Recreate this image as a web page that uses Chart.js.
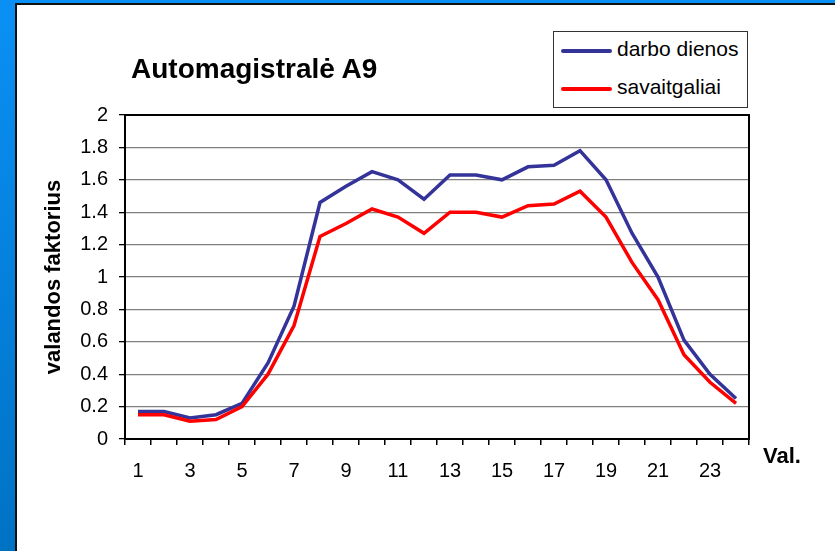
<!doctype html>
<html>
<head>
	<meta charset="utf-8">
	<title>Automagistralė A9</title>
	<script src="https://cdn.jsdelivr.net/npm/chart.js@4/dist/chart.umd.min.js"></script>
	<style>
		body {
			margin: 0;
			width: 835px;
			height: 551px;
			overflow: hidden;
			position: relative;
			background: linear-gradient(#0a90f5, #0072c4);
			font-family: "Liberation Sans", Arial, sans-serif;
		}
		#panel {
			position: absolute;
			left: 15px;
			top: 3px;
			width: 818px;
			height: 546px;
			background: #fff;
			border-left: 2px solid #111;
			border-top: 2px solid #111;
		}
		#canvas {
			position: absolute;
			left: 0;
			top: 0;
		}
		#title {
			position: absolute;
			left: 131px;
			top: 53px;
			font-size: 28px;
			font-weight: bold;
			line-height: 32px;
			white-space: nowrap;
		}
		#val {
			position: absolute;
			left: 763px;
			top: 444px;
			font-size: 22px;
			font-weight: bold;
			line-height: 24px;
		}
		#legend {
			position: absolute;
			left: 553px;
			top: 31px;
			width: 193px;
			height: 75px;
			border: 1px solid #333;
			background: #fff;
			font-size: 21px;
		}
		.row {
			position: absolute;
			left: 0;
			height: 26px;
			line-height: 26px;
			white-space: nowrap;
		}
		.row span.swatch {
			position: absolute;
			left: 7px;
			top: 11px;
			width: 51px;
			height: 4px;
			border-radius: 2px;
		}
		.row span.txt {
			position: absolute;
			left: 63px;
			top: -2px;
		}
	</style>
</head>

<body>
	<div id="panel"></div>
	<canvas id="canvas" width="835" height="551"></canvas>
	<div id="title">Automagistralė A9</div>
	<div id="val">Val.</div>
	<div id="legend">
		<div class="row" style="top: 6px;"><span class="swatch" style="background:#333399"></span><span class="txt">darbo dienos</span></div>
		<div class="row" style="top: 44px;"><span class="swatch" style="background:#ff0000"></span><span class="txt">savaitgaliai</span></div>
	</div>

	<script>
		// hourly factors
		var hours = ['1','2','3','4','5','6','7','8','9','10','11','12','13','14','15','16','17','18','19','20','21','22','23','24'];
		var darboDienos = [0.17, 0.17, 0.13, 0.15, 0.22, 0.47, 0.82, 1.46, 1.56, 1.65, 1.60, 1.48, 1.63, 1.63, 1.60, 1.68, 1.69, 1.78, 1.60, 1.27, 1.00, 0.61, 0.40, 0.25];
		var savaitgaliai = [0.15, 0.15, 0.11, 0.12, 0.20, 0.40, 0.70, 1.25, 1.33, 1.42, 1.37, 1.27, 1.40, 1.40, 1.37, 1.44, 1.45, 1.53, 1.37, 1.09, 0.86, 0.52, 0.35, 0.22];
		var yMin = 0, yMax = 2, yStep = 0.2;

		var font = "'Liberation Sans', Arial, sans-serif";

		// black frame round the plot area
		var frame = {
			id: 'frame',
			beforeDatasetsDraw: function (chart) {
				var a = chart.chartArea, ctx = chart.ctx;
				ctx.save();
				ctx.strokeStyle = '#000';
				ctx.lineWidth = 2;
				ctx.strokeRect(a.left, a.top, a.right - a.left, a.bottom - a.top);
				ctx.restore();
			}
		};

		var ctx = document.getElementById('canvas').getContext('2d');
		new Chart(ctx, {
			type: 'line',
			data: {
				labels: hours,
				datasets: [{
					label: 'darbo dienos',
					data: darboDienos,
					borderColor: '#333399',
					borderWidth: 3.5,
					pointRadius: 0,
					tension: 0,
					order: 1
				}, {
					label: 'savaitgaliai',
					data: savaitgaliai,
					borderColor: '#ff0000',
					borderWidth: 3.5,
					pointRadius: 0,
					tension: 0,
					order: 0
				}]
			},
			options: {
				responsive: false,
				animation: false,
				layout: { padding: { left: 0, top: 115, right: 86, bottom: 0 } },
				plugins: {
					legend: { display: false },
					title: { display: false },
					tooltip: { enabled: false }
				},
				scales: {
					x: {
						offset: true,
						grid: {
							offset: true,
							drawOnChartArea: false,
							tickLength: 6,
							tickColor: '#000',
							lineWidth: 1.5
						},
						border: { color: '#000', width: 2 },
						ticks: {
							autoSkip: false,
							maxRotation: 0,
							padding: 14,
							color: '#000',
							font: { family: font, size: 20 },
							callback: function (value, index) {
								return index % 2 === 0 ? this.getLabelForValue(value) : '';
							}
						},
						afterFit: function (scale) { scale.height = 112; }
					},
					y: {
						min: yMin,
						max: yMax,
						grid: {
							color: function (c) { return c.tick && c.tick.value === yMax ? '#000' : '#808080'; },
							lineWidth: 1.3,
							tickLength: 6,
							tickColor: '#000'
						},
						border: { color: '#000', width: 2 },
						ticks: {
							stepSize: yStep,
							padding: 11,
							color: '#000',
							font: { family: font, size: 20 },
							callback: function (v) { return String(Math.round(v * 10) / 10); }
						},
						title: {
							display: true,
							text: 'valandos faktorius',
							color: '#000',
							font: { family: font, size: 22, weight: 'bold' },
							padding: { top: 41, bottom: 0 }
						},
						afterFit: function (scale) { scale.width = 125; }
					}
				}
			},
			plugins: [frame]
		});
	</script>
</body>

</html>
